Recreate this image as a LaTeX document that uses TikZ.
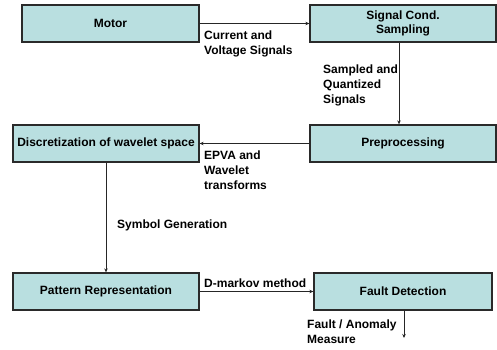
\documentclass[tikz,border=0pt]{standalone}
\usepackage{fontspec}
\setmainfont{Liberation Sans}
\usetikzlibrary{arrows.meta}
\definecolor{boxfill}{HTML}{B9DFE0}
\definecolor{boxline}{HTML}{2A2A2A}
\begin{document}
\begin{tikzpicture}[x=1pt,y=-1pt,
  blk/.style={draw=boxline,line width=1.3pt,fill=boxfill,minimum height=37pt,inner sep=0pt,
    font=\fontsize{12}{14.5}\selectfont\bfseries},
  conn/.style={draw=black!85,line width=0.9pt,-{Stealth[length=4pt,width=3.5pt]}},
  lbl/.style={anchor=north west,inner sep=0pt,align=left,
    font=\fontsize{12}{14.7}\selectfont\bfseries}]
\useasboundingbox (0,0) rectangle (497,349);
\node[blk,minimum width=177pt] (motor) at (110.5,23.5) {Motor};
\node[blk,minimum width=186pt,align=center] (sig) at (403,23.5) {Signal Cond.\\Sampling};
\node[blk,minimum width=186pt] (pre) at (403,143.5) {Preprocessing};
\node[blk,minimum width=186pt] (disc) at (106,143.5) {Discretization of wavelet space};
\node[blk,minimum width=186pt] (pat) at (106,291.5) {Pattern Representation};
\node[blk,minimum width=178pt] (fault) at (403,291.5) {Fault Detection};
\coordinate (out) at (404,338);

\draw[conn] (motor.east) -- (sig.west);
\draw[conn] ([xshift=-4pt]sig.south) -- ([xshift=-4pt]pre.north);
\draw[conn] (pre.west) -- (disc.east);
\draw[conn] (disc.south) -- (pat.north);
\draw[conn] (pat.east) -- (fault.west);
\draw[conn] (fault.south -| out) -- (out);

\node[lbl] (l1) at (204,31) {Current and\\Voltage Signals};
\node[lbl] (l2) at (323,65) {Sampled and\\Quantized\\Signals};
\node[lbl] (l3) at (204,151) {EPVA and\\Wavelet\\transforms};
\node[lbl] (l4) at (117,220) {Symbol Generation};
\node[lbl] (l5) at (204,279) {D-markov method};
\node[lbl] (l6) at (307,320) {Fault / Anomaly\\Measure};
\end{tikzpicture}
\end{document}
